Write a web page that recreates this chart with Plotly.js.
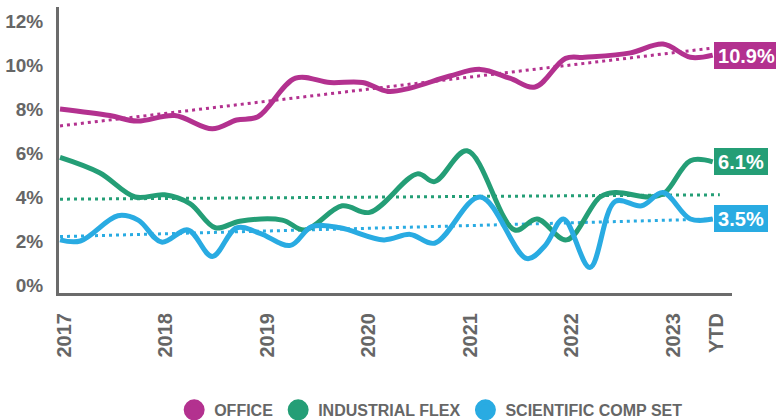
<!DOCTYPE html>
<html><head><meta charset="utf-8">
<script src="https://cdn.plot.ly/plotly-3.0.1.min.js"></script>
<style>html,body{margin:0;padding:0;background:#fff;} #chart{width:776px;height:420px;}</style>
</head><body><div id="chart"></div>
<script>
// ---- data ----
const seriesNames = ["OFFICE", "INDUSTRIAL FLEX", "SCIENTIFIC COMP SET"];
const endLabels = ["10.9%", "6.1%", "3.5%"];
const xTickVals = [2017, 2018, 2019, 2020, 2021, 2022, 2023, 2023.43];
const xTickText = ["2017", "2018", "2019", "2020", "2021", "2022", "2023", "YTD"];
const yTickVals = [0, 2, 4, 6, 8, 10, 12];
const yTickText = ["0%", "2%", "4%", "6%", "8%", "10%", "12%"];

const officeX = [2017.00, 2017.49, 2017.76, 2018.13, 2018.50, 2018.74, 2018.95, 2019.32, 2019.66, 2019.98, 2020.23, 2020.45, 2020.84, 2021.14, 2021.43, 2021.68, 2021.98, 2022.17, 2022.62, 2022.94, 2023.21, 2023.43];
const officeY = [8.0, 7.7, 7.45, 7.7, 7.1, 7.5, 7.65, 9.4, 9.2, 9.2, 8.8, 8.95, 9.5, 9.8, 9.4, 9.0, 10.3, 10.35, 10.55, 10.95, 10.35, 10.45];

const flexX = [2017.00, 2017.39, 2017.74, 2018.03, 2018.28, 2018.53, 2018.77, 2019.19, 2019.41, 2019.78, 2020.05, 2020.52, 2020.69, 2021.01, 2021.48, 2021.70, 2021.99, 2022.32, 2022.47, 2022.81, 2022.96, 2023.21, 2023.43];
const flexY = [5.8, 5.1, 4.0, 4.1, 3.7, 2.6, 2.9, 2.95, 2.5, 3.6, 3.3, 5.05, 4.7, 6.1, 2.5, 3.0, 2.05, 4.0, 4.2, 4.0, 4.2, 5.65, 5.6];

const sciX = [2017.00, 2017.20, 2017.57, 2017.77, 2018.00, 2018.26, 2018.50, 2018.74, 2018.97, 2019.27, 2019.48, 2019.76, 2020.19, 2020.45, 2020.69, 2021.14, 2021.60, 2021.78, 2021.96, 2022.22, 2022.47, 2022.73, 2022.94, 2023.21, 2023.43];
const sciY = [2.05, 2.0, 3.15, 2.95, 1.95, 2.5, 1.3, 2.6, 2.35, 1.8, 2.65, 2.6, 2.05, 2.3, 1.9, 4.0, 1.2, 1.8, 3.0, 0.8, 3.8, 3.6, 4.2, 3.0, 3.0];

const officeTrendX = [2017.00, 2023.43];
const officeTrendY = [7.23, 10.77];
const flexTrendX = [2017.00, 2023.50];
const flexTrendY = [3.9, 4.1];
const sciTrendX = [2017.00, 2023.43];
const sciTrendY = [2.2, 3.0];

// ---- style ----
const colors = ["#B3318F", "#249E76", "#29ABE2"];
const gray = "#666666";
const lineSets = [[officeX, officeY], [flexX, flexY], [sciX, sciY]];
const trendSets = [[officeTrendX, officeTrendY], [flexTrendX, flexTrendY], [sciTrendX, sciTrendY]];

const traces = [];
trendSets.forEach((t, i) => {
  traces.push({x: t[0], y: t[1], type: "scatter", mode: "lines", showlegend: false,
    hoverinfo: "skip", line: {color: colors[i], width: 3, dash: "3px,4px"}});
});
lineSets.forEach((s, i) => {
  traces.push({x: s[0], y: s[1], type: "scatter", mode: "lines", showlegend: false,
    line: {color: colors[i], width: 5, shape: "spline", smoothing: 1}});
});
seriesNames.forEach((n, i) => {
  traces.push({x: [null], y: [null], type: "scatter", mode: "markers", name: n, showlegend: true,
    marker: {color: colors[i], size: 16, symbol: "circle", line: {color: colors[i], width: 5}}});
});

const annotations = lineSets.map((s, i) => ({
  x: s[0][s[0].length - 1], y: s[1][s[1].length - 1], xref: "x", yref: "y",
  text: endLabels[i], showarrow: false, xanchor: "left", yanchor: "middle", xshift: 1,
  bgcolor: colors[i], borderpad: 1.5, borderwidth: 0,
  width: endLabels[i].length * 11 + 7, height: 24,
  font: {family: "Liberation Sans, Arial, sans-serif", size: 20, color: "#ffffff", weight: "bold"}
}));

const layout = {
  width: 776, height: 420,
  margin: {l: 59, r: 44, t: 7, b: 127, pad: 0, autoexpand: false},
  paper_bgcolor: "#ffffff", plot_bgcolor: "#ffffff",
  showlegend: true,
  legend: {orientation: "h", x: 0.553, xanchor: "center", y: -0.409, yanchor: "middle",
    font: {family: "Liberation Sans, Arial, sans-serif", size: 16, color: gray, weight: "bold"},
    itemsizing: "trace", bgcolor: "rgba(0,0,0,0)"},
  xaxis: {range: [2016.99, 2023.62], showgrid: false, zeroline: false, automargin: false,
    showline: true, linecolor: "#6B6B6B", linewidth: 3,
    tickmode: "array", tickvals: xTickVals, ticktext: xTickText, tickangle: -90,
    ticks: "", ticklabelstandoff: 9, ticklabelshift: 4,
    tickfont: {family: "Liberation Sans, Arial, sans-serif", size: 20, color: gray, weight: "bold"}},
  yaxis: {range: [-0.364, 12.636], showgrid: false, zeroline: false, automargin: false,
    showline: true, linecolor: "#6B6B6B", linewidth: 3,
    tickmode: "array", tickvals: yTickVals, ticktext: yTickText,
    ticks: "", ticklabelstandoff: 9,
    tickfont: {family: "Liberation Sans, Arial, sans-serif", size: 19, color: gray, weight: "bold"}},
  annotations: annotations,
  hovermode: false
};

Plotly.newPlot("chart", traces, layout, {displayModeBar: false, staticPlot: true});
</script>
</body></html>
